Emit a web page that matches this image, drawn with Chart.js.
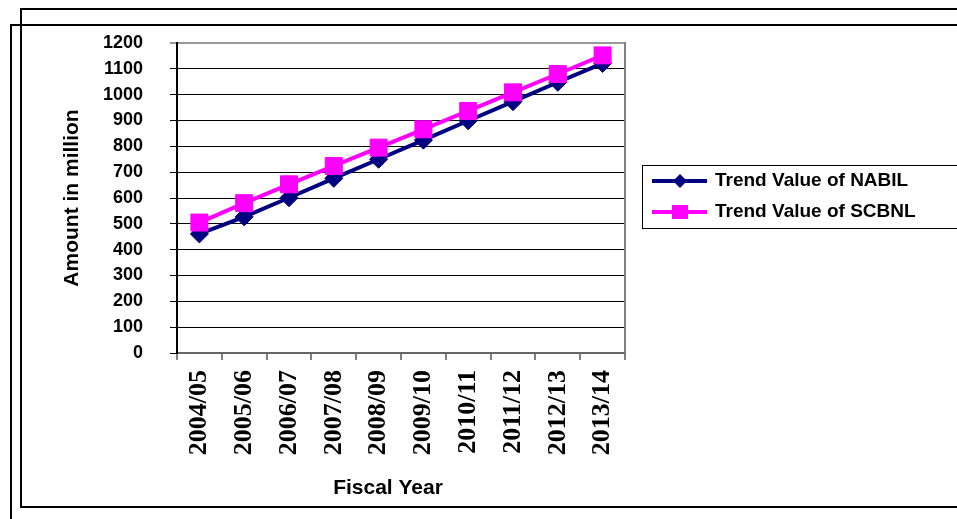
<!DOCTYPE html>
<html>
<head>
<meta charset="utf-8">
<script src="https://cdn.jsdelivr.net/npm/chart.js@4.4.1/dist/chart.umd.min.js"></script>
<style>
  html, body { margin: 0; padding: 0; background: #ffffff; }
  #wrap { width: 957px; height: 519px; position: relative; }
</style>
</head>
<body>
<div id="wrap"><canvas id="c" width="957" height="519"></canvas></div>
<script>
const categories = ["2004/05","2005/06","2006/07","2007/08","2008/09","2009/10","2010/11","2011/12","2012/13","2013/14"];
const nabilValues = [461, 527, 601, 676, 750, 824, 899, 973, 1048, 1121];
const scbnlValues = [505, 580, 653, 724, 795, 866, 937, 1009, 1080, 1152];
const seriesNames = ["Trend Value of NABIL", "Trend Value of SCBNL"];
const yTitle = "Amount in million";
const xTitle = "Fiscal Year";

const NAVY = "#000080";
const MAGENTA = "#FF00FF";
const SANS = "'Liberation Sans', Arial, sans-serif";
const SERIF = "'Liberation Serif', 'Times New Roman', serif";

const decorPlugin = {
  id: 'decor',
  beforeDraw(chart) {
    const ctx = chart.ctx;
    ctx.save();
    ctx.fillStyle = '#ffffff';
    ctx.fillRect(0, 0, chart.width, chart.height);
    ctx.strokeStyle = '#000000';
    ctx.lineWidth = 2;
    ctx.beginPath();
    ctx.moveTo(20, 9); ctx.lineTo(957, 9);
    ctx.moveTo(10, 25); ctx.lineTo(957, 25);
    ctx.moveTo(21, 8); ctx.lineTo(21, 507);
    ctx.moveTo(11, 24); ctx.lineTo(11, 519);
    ctx.moveTo(20, 507); ctx.lineTo(957, 507);
    ctx.stroke();
    ctx.restore();
  },
  afterDatasetsDraw(chart) {
    const ctx = chart.ctx;
    const a = chart.chartArea;
    ctx.save();
    ctx.strokeStyle = '#808080';
    ctx.lineWidth = 2;
    ctx.beginPath();
    ctx.moveTo(a.right, a.top - 1); ctx.lineTo(a.right, a.bottom);
    ctx.stroke();
    ctx.restore();
  },
  afterDraw(chart) {
    const ctx = chart.ctx;
    ctx.save();
    ctx.fillStyle = '#000000';
    ctx.font = "bold 21px " + SANS;
    ctx.textAlign = 'center';
    ctx.textBaseline = 'middle';
    ctx.fillText(xTitle, 388, 488);
    ctx.save();
    ctx.translate(72, 198);
    ctx.rotate(-Math.PI / 2);
    ctx.fillText(yTitle, 0, 0);
    ctx.restore();

    ctx.strokeStyle = '#000000';
    ctx.lineWidth = 1;
    ctx.strokeRect(642.5, 165.5, 330, 63);
    const items = chart.data.datasets;
    const ys = [181, 212];
    items.forEach((ds, i) => {
      const y = ys[i];
      ctx.strokeStyle = ds.borderColor;
      ctx.lineWidth = 4;
      ctx.beginPath();
      ctx.moveTo(652, y); ctx.lineTo(707, y);
      ctx.stroke();
      ctx.fillStyle = ds.pointBackgroundColor;
      const cx = 680;
      if (ds.pointStyle === 'rectRot') {
        ctx.beginPath();
        ctx.moveTo(cx - 7, y); ctx.lineTo(cx, y - 7); ctx.lineTo(cx + 7, y); ctx.lineTo(cx, y + 7);
        ctx.closePath();
        ctx.fill();
      } else {
        ctx.fillRect(cx - 8, y - 7, 16, 14);
      }
      ctx.fillStyle = '#000000';
      ctx.font = "bold 19px " + SANS;
      ctx.textAlign = 'left';
      ctx.textBaseline = 'middle';
      ctx.fillText(ds.label, 715, y);
    });
    ctx.restore();
  }
};

new Chart(document.getElementById('c'), {
  type: 'line',
  data: {
    labels: categories,
    datasets: [
      {
        label: seriesNames[0],
        data: nabilValues,
        borderColor: NAVY,
        backgroundColor: NAVY,
        pointBackgroundColor: NAVY,
        pointBorderColor: NAVY,
        pointStyle: 'rectRot',
        pointRadius: 9,
        pointBorderWidth: 1,
        borderWidth: 4,
        tension: 0,
        fill: false,
        order: 1
      },
      {
        label: seriesNames[1],
        data: scbnlValues,
        borderColor: MAGENTA,
        backgroundColor: MAGENTA,
        pointBackgroundColor: MAGENTA,
        pointBorderColor: MAGENTA,
        pointStyle: 'rect',
        pointRadius: 12,
        pointBorderWidth: 1,
        borderWidth: 4,
        tension: 0,
        fill: false,
        order: 0
      }
    ]
  },
  options: {
    responsive: false,
    animation: false,
    devicePixelRatio: 1,
    layout: { padding: { left: 0, top: 43, right: 332, bottom: 46 } },
    plugins: {
      legend: { display: false },
      tooltip: { enabled: false },
      title: { display: false }
    },
    scales: {
      x: {
        type: 'category',
        offset: true,
        grid: {
          offset: true,
          drawOnChartArea: false,
          drawTicks: true,
          tickLength: 7,
          color: '#808080',
          lineWidth: 2
        },
        border: { display: true, color: '#666666', width: 2 },
        ticks: {
          autoSkip: false,
          minRotation: 90,
          maxRotation: 90,
          padding: 10,
          color: '#000000',
          font: { family: SERIF, size: 26, weight: 'bold' }
        },
        afterFit(scale) { scale.height = 120; }
      },
      y: {
        min: 0,
        max: 1200,
        grid: {
          drawTicks: true,
          tickLength: 7,
          color: (c) => (c.tick && c.tick.value === 1200 ? '#999999' : '#000000'),
          lineWidth: (c) => (c.tick && c.tick.value === 1200 ? 2 : 1)
        },
        border: { display: true, color: '#000000', width: 2 },
        ticks: {
          stepSize: 100,
          padding: 27,
          color: '#000000',
          font: { family: SANS, size: 18, weight: 'bold' },
          callback: (v) => String(v)
        },
        afterFit(scale) { scale.width = 177; }
      }
    }
  },
  plugins: [decorPlugin]
});
</script>
</body>
</html>
